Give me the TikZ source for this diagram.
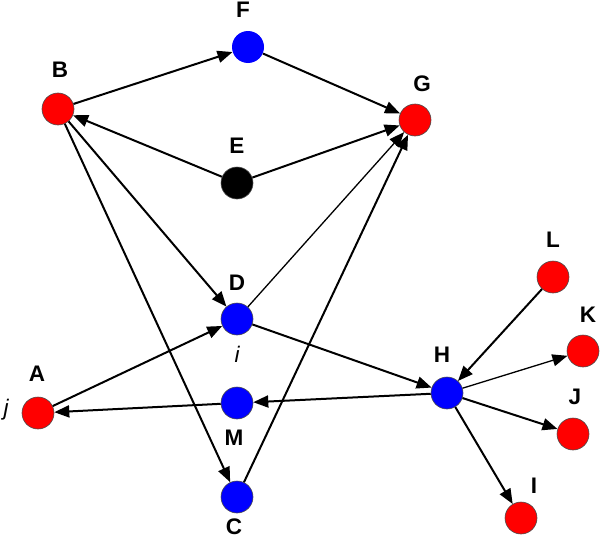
\documentclass[tikz,border=0pt]{standalone}
\usepackage{fontspec}
\setmainfont{Liberation Sans}
\usetikzlibrary{arrows.meta}
\begin{document}
\begin{tikzpicture}[x=1pt,y=-1pt,
  vtx/.style={circle,minimum size=32pt,inner sep=0pt,draw=black!70,line width=0.6pt},
  red/.style={vtx,fill=red},
  blue/.style={vtx,fill=blue},
  blk/.style={vtx,fill=black},
  lbl/.style={font=\fontsize{22.5}{22.5}\selectfont\bfseries,inner sep=0pt},
  ilbl/.style={font=\fontsize{22.5}{22.5}\selectfont\itshape,inner sep=0pt},
  edge/.style={line width=2pt,-{Triangle[length=15pt,width=12pt]}},
  thin edge/.style={edge,line width=1.3pt}]
\useasboundingbox (0,0) rectangle (600,546);
\node[red] (B) at (58,109) {};
\node[blue,draw=none] (F) at (248,47) {};
\node[blk] (E) at (237,183) {};
\node[red] (G) at (415,120) {};
\node[blue] (D) at (237,319) {};
\node[red] (A) at (38,413) {};
\node[blue] (M) at (237,403) {};
\node[blue] (C) at (237,497) {};
\node[blue] (H) at (447,393) {};
\node[red] (L) at (553,277) {};
\node[red] (K) at (583,351) {};
\node[red] (J) at (573,434) {};
\node[red] (I) at (521,518) {};
\node[lbl] (lB) at (60,70) {B};
\node[lbl] (lF) at (243,10) {F};
\node[lbl] (lE) at (237,146) {E};
\node[lbl] (lG) at (422,84) {G};
\node[lbl] (lD) at (237,283) {D};
\node[ilbl] (li) at (237,354) {i};
\node[lbl] (lA) at (37,374) {A};
\node[ilbl] (lj) at (6,410) {j};
\node[lbl] (lM) at (234,438) {M};
\node[lbl] (lC) at (234,527) {C};
\node[lbl] (lH) at (442,355) {H};
\node[lbl] (lL) at (553,240) {L};
\node[lbl] (lK) at (588,315) {K};
\node[lbl] (lJ) at (575,397) {J};
\node[lbl] (lI) at (534,486) {I};
\draw[edge] (B) -- (F);
\draw[edge] (F) -- (G);
\draw[edge] (E) -- (B);
\draw[edge] (E) -- (G);
\draw[edge] (B) -- (D);
\draw[edge] (B) -- (C);
\draw[thin edge] (D) -- (G);
\draw[edge] (C) -- (G);
\draw[edge] (D) -- (H);
\draw[edge] (A) -- (D);
\draw[edge] (H) -- (M);
\draw[edge] (M) -- (A);
\draw[edge] (L) -- (H);
\draw[thin edge] (H) -- (K);
\draw[edge] (H) -- (J);
\draw[edge] (H) -- (I);
\end{tikzpicture}
\end{document}
